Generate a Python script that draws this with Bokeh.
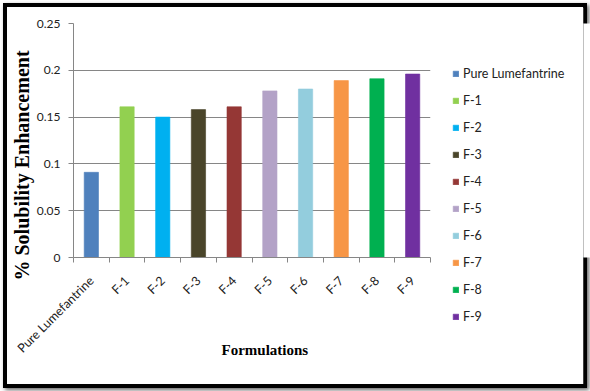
import numpy as np
from bokeh.plotting import figure
from bokeh.layouts import row
from bokeh.models import FixedTicker, Legend, LegendItem, Title
from bokeh.embed import file_html
from bokeh.resources import INLINE

categories = ["Pure Lumefantrine", "F-1", "F-2", "F-3", "F-4", "F-5", "F-6", "F-7", "F-8", "F-9"]
values = [0.091, 0.161, 0.150, 0.158, 0.161, 0.178, 0.180, 0.189, 0.191, 0.196]
colors = ["#4F81BD", "#92D050", "#00B0F0", "#4A452A", "#953735",
          "#B3A2C7", "#93CDDD", "#F79646", "#00B050", "#7030A0"]
y_ticks = [0, 0.05, 0.1, 0.15, 0.2, 0.25]
y_tick_labels = ["0", "0.05", "0.1", "0.15", "0.2", "0.25"]

n = len(categories)
centers = list(np.arange(n) + 0.5)
bounds = list(np.arange(n + 1).astype(float))

W, H = 576, 377
W1 = 433
TOP, BOTTOM = 16, 127
p = figure(width=W1, height=H, output_backend="svg", toolbar_location=None,
           x_range=(0, n), y_range=(0, 0.25), tools="")
p.min_border_left = 66
p.min_border_right = W1 - 423
p.min_border_top = TOP
p.min_border_bottom = BOTTOM
p.outline_line_color = None

for i in range(n):
    p.vbar(x=[centers[i]], top=[values[i]], width=0.4, bottom=0,
           fill_color=colors[i], line_color=colors[i], line_alpha=0.6)

# x axis
p.xaxis.ticker = FixedTicker(ticks=centers, minor_ticks=bounds)
p.xaxis.major_label_overrides = {c: lab for c, lab in zip(centers, categories)}
p.xaxis.major_tick_line_color = None
p.xaxis.minor_tick_in = 0
p.xaxis.minor_tick_out = 5
p.xaxis.minor_tick_line_color = "#868686"
p.xaxis.axis_line_color = "#868686"
p.xaxis.major_label_orientation = np.pi / 4
p.xaxis.major_label_text_font = "Lato"
p.xaxis.major_label_text_font_size = "12.5px"
p.xaxis.major_label_text_color = "#222222"
p.xaxis.major_label_standoff = 15
p.xgrid.visible = False

# y axis
p.yaxis.ticker = FixedTicker(ticks=y_ticks)
p.yaxis.major_label_overrides = {t: l for t, l in zip(y_ticks, y_tick_labels)}
p.yaxis.minor_tick_line_color = None
p.yaxis.major_tick_in = 0
p.yaxis.major_tick_out = 5
p.yaxis.major_tick_line_color = "#868686"
p.yaxis.axis_line_color = "#868686"
p.yaxis.major_label_text_font = "Lato"
p.yaxis.major_label_text_font_size = "12px"
p.yaxis.major_label_text_color = "#222222"
p.yaxis.major_label_standoff = 8
p.ygrid.grid_line_color = "#868686"
p.ygrid.grid_line_width = 1

# axis titles
p.add_layout(Title(text="% Solubility Enhancement", align="left", offset=-23,
                   text_font="Liberation Serif", text_font_style="bold",
                   text_font_size="20px", text_color="black", standoff=2), "left")
p.add_layout(Title(text="Formulations", align="left", offset=148, vertical_align="top",
                   text_font="Liberation Serif", text_font_style="bold",
                   text_font_size="15px", text_color="black", standoff=-44), "below")

# legend holder (off-range copies of the bars only feed the legend swatches)
q = figure(width=W - W1, height=H, output_backend="svg", toolbar_location=None,
           x_range=(100, 101), y_range=(100, 101), tools="",
           x_axis_type=None, y_axis_type=None)
q.min_border_left = 0
q.min_border_right = 0
q.min_border_top = TOP
q.min_border_bottom = BOTTOM
q.outline_line_color = None
q.grid.visible = False
leg_r = []
for i in range(n):
    leg_r.append(q.vbar(x=[centers[i]], top=[values[i]], width=0.4,
                        fill_color=colors[i], line_color=colors[i], line_alpha=0.6))
items = [LegendItem(label=c, renderers=[r]) for c, r in zip(categories, leg_r)]
legend = Legend(items=items, location="top_left", orientation="vertical",
                glyph_width=7, glyph_height=7, label_height=14, spacing=12,
                padding=0, margin=12, border_line_color=None, background_fill_alpha=0,
                label_text_font="Lato", label_text_font_size="12.5px",
                label_text_color="#222222", label_standoff=4,
                title=" ", title_text_font_size="1px", title_standoff=30)
q.add_layout(legend, "left")

layout = row(p, q, spacing=0)
layout.styles = {"border": "4px solid black", "margin": "3px 0 0 3px",
                 "box-shadow": "2px 2px 4px #666666"}

open("out.html", "w").write(file_html(layout, INLINE))
